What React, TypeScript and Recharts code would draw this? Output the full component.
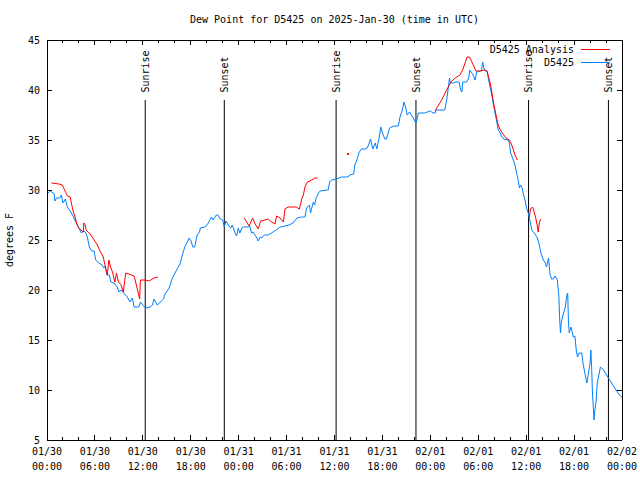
import React from 'react';
import { LineChart, Line, XAxis, YAxis, ReferenceLine, Legend, Customized } from 'recharts';

const FONT = '"DejaVu Sans Mono", "Liberation Mono", monospace';

// Observed dew point (D5425): hours since 01/30 00:00 UTC and degrees F
const obsHours = [
  0.0, 0.4, 0.9, 1.0, 1.2, 1.6, 1.8, 2.0, 2.3, 2.55, 2.9, 3.2, 3.6, 4.0, 4.3, 4.6, 4.8, 5.05, 5.3, 5.6,
  5.9, 6.1, 6.5, 6.9, 7.1, 7.3, 7.5, 7.8, 8.0, 8.4, 8.8, 9.0, 9.3, 9.6, 10.05, 10.4, 10.7, 10.9, 11.5, 11.7,
  12.1, 12.35, 12.9, 13.2, 13.4, 13.8, 14.6, 14.7, 15.3, 15.7, 16.1, 16.65, 16.95, 17.25, 17.5, 17.8, 18.05, 18.25, 18.5, 18.8,
  19.1, 19.2, 19.8, 20.2, 20.6, 20.8, 21.2, 21.4, 21.7, 22.0, 22.2, 22.4, 22.7, 23.0, 23.2, 23.5, 23.75, 23.95, 24.15, 24.4,
  24.6, 24.9, 25.2, 25.4, 25.6, 25.8, 26.2, 26.45, 26.7, 26.9, 27.2, 27.7, 28.1, 28.7, 29.2, 29.8, 30.3, 30.8, 31.3, 31.9,
  32.3, 32.5, 32.85, 33.0, 33.35, 33.5, 33.7, 34.0, 34.2, 35.0, 35.2, 35.4, 35.65, 36.2, 36.9, 37.7, 37.9, 38.4, 38.55, 38.8,
  39.1, 39.4, 39.8, 40.1, 40.35, 40.5, 40.8, 41.1, 41.3, 41.6, 41.8, 42.0, 42.3, 42.5, 42.9, 43.4, 44.0, 44.2, 44.5, 44.7,
  44.9, 45.1, 45.4, 45.65, 46.0, 46.2, 46.4, 46.5, 47.3, 48.0, 48.35, 48.6, 48.7, 49.8, 50.05, 50.25, 50.4, 50.5, 50.8, 51.2,
  51.6, 51.8, 51.95, 52.05, 52.55, 52.8, 52.95, 53.1, 53.3, 53.6, 53.8, 54.2, 54.4, 54.55, 54.7, 54.9, 55.1, 55.3, 55.5, 55.7,
  55.9, 56.1, 56.3, 56.5, 56.7, 56.9, 57.2, 57.75, 57.9, 58.05, 58.3, 58.6, 58.8, 59.0, 59.15, 59.3, 59.45, 59.65, 59.85, 60.05,
  60.25, 60.5, 60.7, 61.1, 61.4, 61.65, 61.85, 62.15, 62.4, 62.55, 62.8, 63.0, 63.2, 63.4, 63.6, 63.9, 64.1, 64.2, 64.3, 64.4,
  64.55, 64.9, 65.1, 65.2, 65.3, 65.4, 65.6, 65.7, 65.9, 66.1, 66.3, 66.45, 66.6, 66.95, 67.15, 67.35, 67.6, 67.8, 68.0, 68.1,
  68.2, 68.3, 68.5, 68.6, 68.75, 68.9, 69.15, 69.3, 69.7, 70.3, 70.7, 71.1, 71.5, 71.8, 72.0,
];
const obsDew = [
  29.6, 29.9, 29.6, 28.9, 29.2, 29.2, 29.5, 28.7, 29.1, 28.3, 27.9, 27.5, 26.8, 26.2, 25.7, 25.9, 25.8, 25.3, 24.3, 23.9,
  23.9, 23.0, 22.7, 22.5, 22.2, 22.4, 21.5, 21.5, 20.8, 20.7, 20.3, 19.8, 20.0, 19.7, 19.3, 18.8, 19.2, 18.3, 18.3, 18.8,
  18.4, 18.2, 18.3, 18.5, 19.1, 18.5, 19.1, 19.5, 20.2, 21.2, 21.8, 22.6, 23.5, 24.3, 24.7, 25.2, 24.9, 24.3, 24.3, 25.5,
  25.8, 26.2, 26.3, 26.7, 27.3, 27.0, 27.5, 27.5, 27.1, 27.0, 26.3, 26.9, 26.5, 26.2, 26.5, 25.8, 25.4, 26.2, 25.7, 26.2,
  26.3, 26.3, 26.3, 26.4, 25.7, 25.8, 25.3, 24.9, 25.3, 25.2, 25.5, 25.5, 25.7, 26.0, 26.3, 26.4, 26.5, 26.7, 27.2, 27.3,
  27.3, 28.2, 28.5, 27.7, 28.8, 28.5, 29.2, 29.7, 29.9, 30.0, 30.0, 30.8, 31.0, 31.1, 31.3, 31.3, 31.5, 31.6, 32.5, 33.0,
  33.8, 34.1, 34.1, 34.2, 34.7, 35.1, 34.1, 34.7, 34.1, 35.3, 36.3, 35.7, 35.1, 35.1, 36.2, 36.4, 36.4, 37.3, 38.0, 38.8,
  38.3, 37.5, 37.8, 37.5, 37.0, 36.7, 37.3, 37.7, 37.7, 37.9, 37.7, 37.7, 38.0, 38.0, 39.0, 40.2, 41.2, 40.7, 40.7, 40.8,
  40.8, 40.0, 39.8, 40.8, 40.8, 41.2, 42.0, 41.8, 41.6, 41.0, 41.8, 41.9, 41.9, 42.8, 42.2, 41.9, 41.9, 41.0, 40.2, 39.5,
  38.5, 37.7, 36.9, 36.0, 35.8, 35.4, 35.1, 35.0, 34.7, 33.7, 33.2, 32.5, 31.7, 31.0, 30.2, 30.5, 30.3, 29.6, 29.0, 28.2,
  27.7, 26.8, 26.0, 25.6, 25.2, 24.5, 23.7, 23.0, 22.7, 22.3, 23.2, 21.5, 21.1, 21.1, 21.4, 21.0, 19.3, 17.0, 15.7, 16.8,
  17.3, 18.3, 19.5, 19.7, 16.7, 15.7, 16.3, 16.0, 15.3, 15.4, 13.8, 13.3, 13.7, 13.7, 12.5, 11.7, 10.7, 11.7, 12.7, 14.0,
  12.3, 9.7, 7.0, 8.0, 8.8, 10.7, 11.7, 12.3, 12.0, 11.2, 10.7, 10.2, 9.7, 9.4, 9.3,
];

// Analysis (D5425 Analysis): separate segments with gaps between them
const anaSeg1Hours = [0.55, 1.5, 1.9, 2.2, 2.55, 2.9, 3.05, 3.3, 3.45, 3.7, 3.9, 4.1, 4.55, 4.6, 4.75, 4.9, 5.4, 5.9, 6.3, 6.7, 7.05, 7.2, 7.4, 7.55, 7.75, 7.95, 8.2, 8.5, 8.7, 8.95, 9.3, 9.55, 9.85, 10.25, 10.9, 11.1, 11.4, 11.6, 11.7, 12.3, 12.8, 13.4, 13.9];
const anaSeg1Dew = [30.7, 30.6, 30.5, 30.0, 29.4, 29.3, 28.7, 27.8, 27.5, 26.7, 26.3, 26.1, 25.8, 26.7, 26.6, 26.0, 25.6, 25.0, 24.5, 23.8, 23.3, 22.7, 22.0, 21.5, 23.0, 22.3, 21.8, 20.8, 21.7, 20.8, 20.5, 19.8, 21.7, 21.6, 21.4, 20.8, 19.8, 19.1, 21.0, 21.0, 20.9, 21.2, 21.3];
const anaSeg2Hours = [24.7, 25.0, 25.3, 25.75, 26.0, 26.45, 26.75, 27.3, 27.7, 28.1, 28.55, 28.75, 29.2, 29.6, 29.8, 30.2, 30.6, 31.2, 31.6, 31.9, 32.1, 32.3, 32.6, 33.15, 33.55, 33.9];
const anaSeg2Dew = [27.2, 26.8, 26.4, 27.2, 26.7, 26.1, 26.9, 27.0, 27.1, 26.8, 26.6, 27.4, 27.2, 26.8, 28.1, 28.3, 28.3, 28.3, 28.1, 29.1, 29.5, 30.3, 30.8, 31.0, 31.2, 31.2];
const anaSeg3Hours = [37.7];
const anaSeg3Dew = [33.6];
const anaSeg4Hours = [48.6, 48.8, 49.2, 49.6, 50.05, 50.5, 50.8, 51.3, 51.7, 52.05, 52.35, 52.6, 52.9, 53.2, 53.5, 53.7, 54.1, 54.85, 55.1, 55.3, 55.5, 55.7, 55.9, 56.1, 56.3, 56.5, 56.7, 57.1, 57.5, 57.9, 58.2, 58.4, 58.6, 58.9];
const anaSeg4Dew = [37.9, 38.2, 38.7, 39.3, 40.0, 40.7, 41.0, 41.3, 41.5, 42.0, 42.7, 43.3, 43.3, 42.8, 42.3, 41.9, 41.9, 42.0, 41.9, 41.3, 40.7, 39.8, 38.8, 38.0, 37.2, 36.5, 36.1, 35.6, 35.2, 35.0, 34.5, 34.0, 33.5, 33.0];
const anaSeg5Hours = [60.4, 60.55, 60.8, 61.0, 61.2, 61.4, 61.5, 61.65, 61.8];
const anaSeg5Dew = [27.3, 28.1, 28.3, 27.8, 27.2, 26.4, 25.8, 26.7, 27.1];

// Sun events (hours since 01/30 00:00 UTC)
const sunHours = [12.3, 22.2, 36.2, 46.2, 60.3, 70.3];
const sunLabels = ['Sunrise', 'Sunset', 'Sunrise', 'Sunset', 'Sunrise', 'Sunset'];

// Axis ticks
const xTickHours = [0, 2, 4, 6, 8, 10, 12, 14, 16, 18, 20, 22, 24, 26, 28, 30, 32, 34, 36, 38, 40, 42, 44, 46, 48, 50, 52, 54, 56, 58, 60, 62, 64, 66, 68, 70, 72];
const xTickDates = ['01/30', '01/30', '01/30', '01/30', '01/31', '01/31', '01/31', '01/31', '02/01', '02/01', '02/01', '02/01', '02/02'];
const xTickTimes = ['00:00', '06:00', '12:00', '18:00', '00:00', '06:00', '12:00', '18:00', '00:00', '06:00', '12:00', '18:00', '00:00'];
const yTicks = [5, 10, 15, 20, 25, 30, 35, 40, 45];

const titleText = 'Dew Point for D5425 on 2025-Jan-30 (time in UTC)';
const yLabelText = 'degrees F';
const obsName = 'D5425';
const anaName = 'D5425 Analysis';

const obsData = obsHours.map((h, i) => ({ h, v: obsDew[i] }));

const anaSegments = [
  [anaSeg1Hours, anaSeg1Dew],
  [anaSeg2Hours, anaSeg2Dew],
  [anaSeg3Hours, anaSeg3Dew],
  [anaSeg4Hours, anaSeg4Dew],
  [anaSeg5Hours, anaSeg5Dew],
];
const anaData: { h: number; v: number | null; solo?: boolean }[] = [];
anaSegments.forEach(([hs, vs], si) => {
  if (si > 0) anaData.push({ h: (hs[0] + anaData[anaData.length - 1].h) / 2, v: null });
  hs.forEach((h, i) => anaData.push({ h, v: vs[i], solo: hs.length === 1 }));
});

const BLUE = '#0080ff';
const RED = '#ff0000';

const BottomTick = (p: any) => {
  const { x, y, payload } = p;
  const val = payload.value;
  const major = val % 6 === 0;
  const idx = Math.round(val / 6);
  return (
    <g>
      <line x1={x} y1={y} x2={x} y2={y - (major ? 5 : 3)} stroke="#000" shapeRendering="crispEdges" />
      {major && (
        <text x={x} y={y + 15} textAnchor="middle" fontFamily={FONT} fontSize={10} fill="#000">
          {xTickDates[idx]}
        </text>
      )}
      {major && (
        <text x={x} y={y + 29.5} textAnchor="middle" fontFamily={FONT} fontSize={10} fill="#000">
          {xTickTimes[idx]}
        </text>
      )}
    </g>
  );
};

const TopTick = (p: any) => {
  const { x, y, payload } = p;
  const major = payload.value % 6 === 0;
  return <line x1={x} y1={y} x2={x} y2={y + (major ? 5 : 3)} stroke="#000" shapeRendering="crispEdges" />;
};

const LeftTick = (p: any) => {
  const { x, y, payload } = p;
  return (
    <g>
      <line x1={x} y1={y} x2={x + 5} y2={y} stroke="#000" shapeRendering="crispEdges" />
      <text x={x - 7} y={y + 3.6} textAnchor="end" fontFamily={FONT} fontSize={10} fill="#000">
        {payload.value}
      </text>
    </g>
  );
};

const RightTick = (p: any) => {
  const { x, y } = p;
  return <line x1={x} y1={y} x2={x - 5} y2={y} stroke="#000" shapeRendering="crispEdges" />;
};

const SunLabel = (p: any) => {
  const vb = p.viewBox || {};
  const x = (vb.x ?? 0) + 3.6;
  const y = 92.5;
  return (
    <text x={x} y={y} transform={`rotate(-90 ${x} ${y})`} textAnchor="start" fontFamily={FONT} fontSize={10} fill="#000">
      {p.text}
    </text>
  );
};

const Titles = () => (
  <g>
    <text x={334.5} y={23} textAnchor="middle" fontFamily={FONT} fontSize={10} fill="#000">
      {titleText}
    </text>
    <text x={13} y={240} transform="rotate(-90 13 240)" textAnchor="middle" fontFamily={FONT} fontSize={10} fill="#000">
      {yLabelText}
    </text>
  </g>
);

const LegendBox = () => (
  <svg width={180} height={32} style={{ display: 'block' }}>
    <text x={134} y={12.6} textAnchor="end" fontFamily={FONT} fontSize={10} fill="#000">{anaName}</text>
    <line x1={141} x2={170} y1={9.5} y2={9.5} stroke={RED} strokeWidth={1} />
    <text x={134} y={26} textAnchor="end" fontFamily={FONT} fontSize={10} fill="#000">{obsName}</text>
    <line x1={141} x2={170} y1={22.5} y2={22.5} stroke={BLUE} strokeWidth={1} />
  </svg>
);

const soloDot = (props: any) => {
  const { cx, cy, payload, index } = props;
  if (payload && payload.solo && cx != null && cy != null) {
    return <rect key={'s' + index} x={cx - 1} y={cy - 1} width={2} height={2} fill={RED} />;
  }
  return <g key={'s' + index} />;
};

export default function App() {
  return (
    <div style={{ position: 'absolute', left: 0, top: 0, width: 640, height: 480, background: '#fff' }}>
      <LineChart width={640} height={480} margin={{ top: 39, right: 0, bottom: 0, left: 0 }}>
        <XAxis
          xAxisId="b"
          dataKey="h"
          type="number"
          domain={[0, 72]}
          allowDataOverflow
          ticks={xTickHours}
          interval={0}
          height={40}
          tickSize={0}
          tickMargin={0}
          tickLine={false}
          axisLine={{ stroke: '#000', shapeRendering: 'crispEdges' }}
          tick={<BottomTick />}
        />
        <XAxis
          xAxisId="t"
          orientation="top"
          dataKey="h"
          type="number"
          domain={[0, 72]}
          allowDataOverflow
          ticks={xTickHours}
          interval={0}
          height={1}
          tickSize={0}
          tickMargin={0}
          tickLine={false}
          axisLine={{ stroke: '#000', shapeRendering: 'crispEdges' }}
          tick={<TopTick />}
        />
        <YAxis
          yAxisId="l"
          type="number"
          domain={[5, 45]}
          allowDataOverflow
          ticks={yTicks}
          interval={0}
          width={47}
          tickSize={0}
          tickMargin={0}
          tickLine={false}
          axisLine={{ stroke: '#000', shapeRendering: 'crispEdges' }}
          tick={<LeftTick />}
        />
        <YAxis
          yAxisId="r"
          orientation="right"
          type="number"
          domain={[5, 45]}
          allowDataOverflow
          ticks={yTicks}
          interval={0}
          width={18}
          tickSize={0}
          tickMargin={0}
          tickLine={false}
          axisLine={{ stroke: '#000', shapeRendering: 'crispEdges' }}
          tick={<RightTick />}
        />
        {sunHours.map((s, i) => (
          <ReferenceLine
            key={'sun' + i}
            xAxisId="b"
            yAxisId="l"
            segment={[{ x: s, y: 39 }, { x: s, y: 5 }]}
            stroke="#000"
            strokeWidth={1}
            ifOverflow="visible"
            label={<SunLabel text={sunLabels[i]} />}
          />
        ))}
        <Line
          xAxisId="b"
          yAxisId="l"
          data={obsData}
          dataKey="v"
          name={obsName}
          type="linear"
          stroke={BLUE}
          strokeWidth={1}
          dot={false}
          activeDot={false}
          isAnimationActive={false}
        />
        <Line
          xAxisId="b"
          yAxisId="l"
          data={anaData}
          dataKey="v"
          name={anaName}
          type="linear"
          stroke={RED}
          strokeWidth={1}
          dot={soloDot}
          activeDot={false}
          connectNulls={false}
          isAnimationActive={false}
        />
        <Legend
          layout="vertical"
          align="center"
          verticalAlign="middle"
          wrapperStyle={{ left: 440, top: 40, width: 180, height: 32 }}
          content={() => <LegendBox />}
        />
        <Customized component={<Titles />} />
      </LineChart>
    </div>
  );
}
